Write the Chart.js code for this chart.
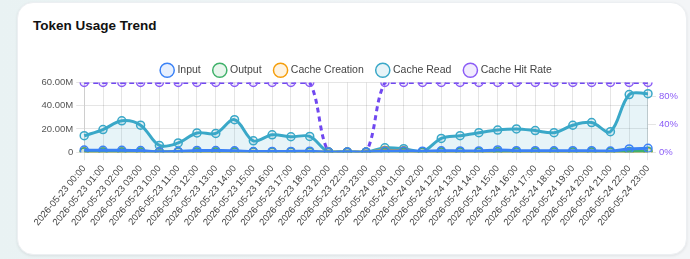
<!DOCTYPE html>
<html>
<head>
<meta charset="utf-8">
<script src="https://cdn.jsdelivr.net/npm/chart.js@4"></script>
<style>
    html, body { margin: 0; padding: 0; }
    body {
        width: 690px;
        height: 259px;
        overflow: hidden;
        background: linear-gradient(90deg, #e9f2f3 0%, #f1f5f7 60%, #f3f5f7 100%);
        font-family: 'Helvetica Neue', Helvetica, Arial, sans-serif;
    }
    .card {
        position: absolute;
        left: 17px;
        top: 2px;
        width: 670px;
        height: 253px;
        background: #fff;
        border-radius: 16px;
        box-shadow: 0 1px 3px rgba(0, 0, 0, 0.08);
        border: 1px solid #eceff2;
        box-sizing: border-box;
    }
    .card h3 {
        position: absolute;
        left: 15px;
        top: 15px;
        margin: 0;
        font-size: 13.5px;
        font-weight: bold;
        color: #111;
    }
    .chart-box {
        position: absolute;
        left: 15px;
        top: 48px;
        width: 648px;
        height: 180px;
    }
</style>
</head>
<body>
<div class="card">
    <h3>Token Usage Trend</h3>
    <div class="chart-box"><canvas id="trend-chart"></canvas></div>
</div>
<script>
const labels = [
    '2026-05-23 00:00', '2026-05-23 01:00', '2026-05-23 02:00', '2026-05-23 03:00',
    '2026-05-23 10:00', '2026-05-23 11:00', '2026-05-23 12:00', '2026-05-23 13:00',
    '2026-05-23 14:00', '2026-05-23 15:00', '2026-05-23 16:00', '2026-05-23 17:00',
    '2026-05-23 18:00', '2026-05-23 20:00', '2026-05-23 22:00', '2026-05-23 23:00',
    '2026-05-24 00:00', '2026-05-24 01:00', '2026-05-24 02:00', '2026-05-24 12:00',
    '2026-05-24 13:00', '2026-05-24 14:00', '2026-05-24 15:00', '2026-05-24 16:00',
    '2026-05-24 17:00', '2026-05-24 18:00', '2026-05-24 19:00', '2026-05-24 20:00',
    '2026-05-24 21:00', '2026-05-24 22:00', '2026-05-24 23:00'
];

// token counts in millions
const inputTokens = [1.8, 1.6, 1.7, 1.4, 0.4, 0.7, 1.5, 1.4, 1.2, 0.6, 0.7, 0.7, 0.9, 0.1, 0.1, 0.1,
    1.0, 1.0, 0.9, 1.2, 1.1, 1.1, 2.0, 1.3, 1.3, 1.2, 1.3, 1.3, 1.0, 2.8, 3.4];
const outputTokens = [0.2, 0.2, 0.2, 0.2, 0.1, 0.1, 0.2, 0.2, 0.2, 0.1, 0.1, 0.1, 0.1, 0.0, 0.0, 0.0,
    0.1, 0.1, 0.1, 0.2, 0.2, 0.2, 0.3, 0.2, 0.2, 0.2, 0.2, 0.2, 0.2, 0.6, 0.8];
const cacheCreation = [0.3, 0.2, 0.2, 0.2, 0.1, 0.1, 0.2, 0.1, 0.2, 0.1, 0.1, 0.1, 0.1, 0.0, 0.0, 0.0,
    1.5, 1.2, 0.2, 0.2, 0.1, 0.1, 0.2, 0.1, 0.1, 0.1, 0.2, 0.2, 0.1, 0.3, 0.3];
const cacheRead = [14.2, 19.5, 27.0, 23.3, 5.8, 8.0, 16.6, 16.2, 28.0, 9.8, 15.0, 13.3, 13.6, 0.2, 0.1, 0.1,
    3.8, 3.0, 0.5, 11.9, 14.2, 16.8, 19.1, 20.0, 18.6, 16.8, 23.2, 25.5, 17.7, 49.6, 50.4];
// percent
const hitRate = [100, 100, 100, 100, 100, 100, 100, 100, 100, 100, 100, 100, 100, 0, 0, 0,
    100, 100, 100, 100, 100, 100, 100, 100, 100, 100, 100, 100, 100, 100, 100];

const COLORS = {
    input: '#3b82f6',
    output: '#3fb16a',
    creation: '#f59e0b',
    read: '#3aa8c8',
    hit: '#8b5cf6'
};

function toTokens(arr) {
    return arr.map(function(v) { return v * 1e6; });
}

function lineSet(label, data, color, bg, extra) {
    var ds = {
        label: label,
        data: data,
        borderColor: color,
        backgroundColor: bg,
        pointBackgroundColor: bg,
        pointBorderColor: color,
        pointRadius: 4,
        pointBorderWidth: 1.5,
        borderWidth: 3,
        tension: 0.35,
        fill: false,
        yAxisID: 'y'
    };
    return Object.assign(ds, extra || {});
}

// pull the plot a bit closer to the legend
var legendGap = {
    id: 'legendGap',
    beforeInit: function(chart) {
        var fit = chart.legend.fit;
        chart.legend.fit = function() {
            fit.call(this);
            this.height -= 3;
        };
    }
};

Chart.defaults.font.size = 9.5;
Chart.defaults.font.family = "'Helvetica Neue', Helvetica, Arial, sans-serif";

var ctx = document.getElementById('trend-chart').getContext('2d');
new Chart(ctx, {
    type: 'line',
    plugins: [legendGap],
    data: {
        labels: labels,
        datasets: [
            lineSet('Input', toTokens(inputTokens), COLORS.input, 'rgba(59, 130, 246, 0.12)'),
            lineSet('Output', toTokens(outputTokens), COLORS.output, 'rgba(63, 177, 106, 0.12)'),
            lineSet('Cache Creation', toTokens(cacheCreation), COLORS.creation, 'rgba(245, 158, 11, 0.12)'),
            lineSet('Cache Read', toTokens(cacheRead), COLORS.read, 'rgba(58, 168, 200, 0.12)', { fill: 'origin' }),
            lineSet('Cache Hit Rate', hitRate, COLORS.hit, 'rgba(139, 92, 246, 0.12)', {
                yAxisID: 'y1',
                borderDash: [5, 4],
                borderColor: '#7048f0'
            })
        ]
    },
    options: {
        responsive: true,
        maintainAspectRatio: false,
        animation: false,
        plugins: {
            legend: {
                position: 'top',
                labels: {
                    usePointStyle: true,
                    pointStyle: 'circle',
                    boxWidth: 10,
                    boxHeight: 10,
                    padding: 14,
                    color: '#444',
                    font: { size: 10.5 }
                }
            }
        },
        scales: {
            x: {
                ticks: { color: '#444', maxRotation: 50, minRotation: 50, autoSkip: false }
            },
            y: {
                position: 'left',
                min: 0,
                max: 60e6,
                ticks: {
                    stepSize: 20e6,
                    color: '#555',
                    callback: function(v) { return v === 0 ? '0' : (v / 1e6).toFixed(2) + 'M'; }
                }
            },
            y1: {
                position: 'right',
                min: 0,
                max: 100,
                grid: { drawOnChartArea: false },
                afterBuildTicks: function(axis) {
                    axis.ticks = axis.ticks.filter(function(t) { return t.value % 40 === 0; });
                },
                ticks: {
                    stepSize: 20,
                    color: COLORS.hit,
                    callback: function(v) { return v + '%'; }
                }
            }
        }
    }
});
</script>
</body>
</html>
